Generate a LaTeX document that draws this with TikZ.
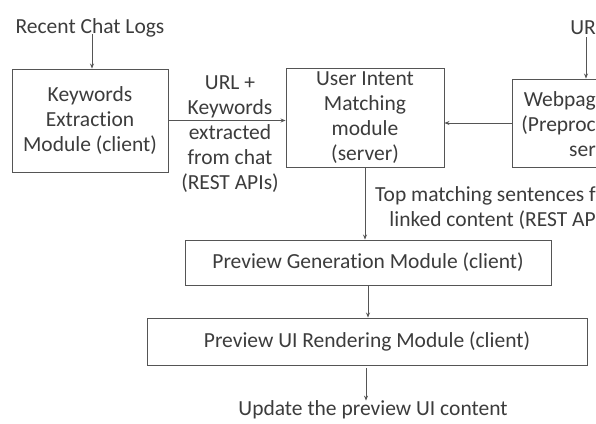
\documentclass[tikz,border=0pt]{standalone}
\usepackage{fontspec}
\setmainfont{Carlito}[Ligatures=NoCommon]
\usetikzlibrary{arrows.meta}
\definecolor{ln}{HTML}{555555}
\definecolor{tx}{HTML}{3C3C3C}
\begin{document}
\begin{tikzpicture}[x=1pt,y=-1pt,
  box/.style={draw=ln, line width=0.9pt, inner sep=0pt, align=center, text=tx, font=\fontsize{21.5}{25}\selectfont},
  lbl/.style={inner sep=0pt, align=center, text=tx, font=\fontsize{21.5}{25}\selectfont},
  arr/.style={draw=ln, line width=0.8pt, -{Stealth[length=5pt,width=4pt]}}]
\useasboundingbox (0,0) rectangle (596,423);
\clip (0,0) rectangle (596,423);
\fill[white] (0,0) rectangle (596,423);
% boxes
\node[box, minimum width=156pt, minimum height=103pt] (kw) at (90,120.5) {Keywords\\Extraction\\Module (client)};
\node[box, minimum width=158pt, minimum height=99pt] (ui) at (365,117.5) {User Intent\\Matching\\module\\(server)};
\node[box, minimum width=148pt, minimum height=88pt] (wp) at (586,123) {};
\node[box, minimum width=366pt, minimum height=45pt] (pg) at (368,262.5) {Preview Generation Module (client)};
\node[box, minimum width=440pt, minimum height=47pt] (pu) at (367,341.5) {Preview UI Rendering Module (client)};
% labels
\node[lbl, align=right, anchor=east] (wpt) at (596,124) {Webpag\\(Preproc\\ser};
\node[lbl] (rcl) at (90,28) {Recent Chat Logs};
\node[lbl, anchor=east] (url) at (596,28) {UR};
\node[lbl] (kwl) at (230,134) {URL +\\Keywords\\extracted\\from chat\\(REST APIs)};
\node[lbl, align=right, anchor=east] (top) at (596,208) {Top matching sentences f\\linked content (REST AP};
\node[lbl] (upd) at (373,410) {Update the preview UI content};
% connectors
\coordinate (c1) at (92,34);
\draw[arr] (c1) -- (c1 |- kw.north);
\draw[arr] (kw.east) -- (kw.east -| ui.west);
\draw[arr] (wp.west) -- (wp.west -| ui.east);
\coordinate (c2) at (586,37);
\draw[arr] (c2) -- (c2 |- wp.north);
\draw[arr] (ui.south) -- (ui.south |- pg.north);
\draw[arr] (pg.south) -- (pg.south |- pu.north);
\coordinate (c3) at (366,368);
\draw[arr] (c3) -- (c3 |- upd.north);
\end{tikzpicture}
\end{document}
